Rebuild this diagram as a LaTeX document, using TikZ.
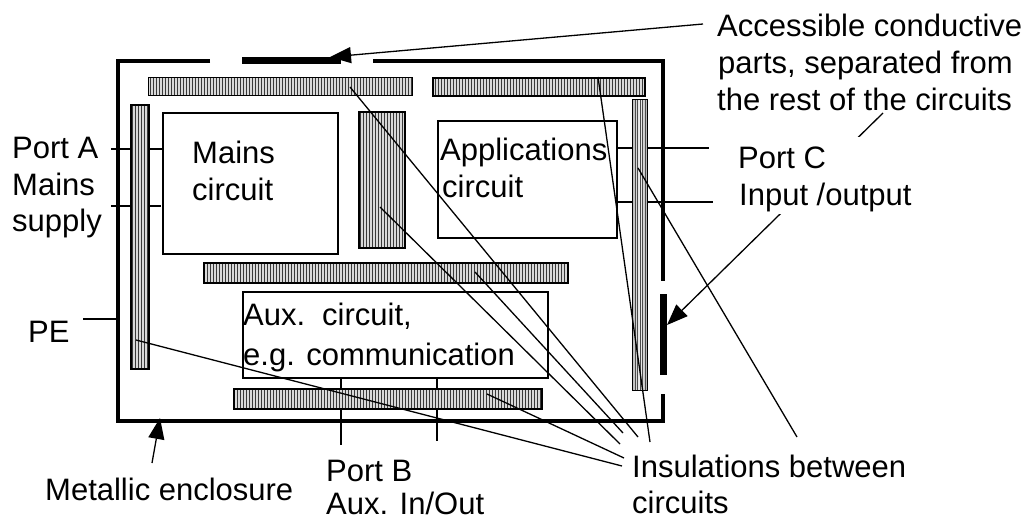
\documentclass[tikz,border=0pt]{standalone}
\usepackage{fontspec}
\setmainfont{Liberation Sans}
\usetikzlibrary{arrows.meta,patterns.meta}
\begin{document}
\begin{tikzpicture}[x=1pt,y=-1pt,
  thinln/.style={line width=1.3pt},
  box/.style={draw, line width=1.8pt, inner sep=0pt, anchor=north west},
  hatch/.style={draw, line width=1.5pt, inner sep=0pt, anchor=north west,
    preaction={fill=gray!30},
    pattern={Lines[angle=90,distance=3pt,line width=0.9pt]}, pattern color=gray!45!black},
  hatchR/.style={draw, line width=1.5pt, inner sep=0pt, anchor=north west,
    preaction={left color=gray!55, right color=gray!65, middle color=gray!10},
    pattern={Lines[angle=90,distance=2.5pt,line width=0.5pt]}, pattern color=gray!60!black},
  lbl/.style={inner sep=0pt, anchor=base west, font=\fontsize{31}{37}\selectfont},
  encl/.style={line width=3.5pt, line cap=butt, line join=miter},
  arr/.style={thinln, -{Triangle[length=21pt,width=16pt]}},
]
\useasboundingbox (0,0) rectangle (1035,520);

% port lines (under bars)
\coordinate (pA1) at (111,149); \coordinate (pA1e) at (162,149);
\coordinate (pA2) at (111,206); \coordinate (pA2e) at (161,206);
\coordinate (pC1) at (616,148); \coordinate (pC1e) at (709,148);
\coordinate (pC2) at (616,202); \coordinate (pC2e) at (713,202);
\coordinate (pB1) at (341,377); \coordinate (pB1e) at (341,445);
\coordinate (pB2) at (437,377); \coordinate (pB2e) at (437,441);
\coordinate (pe1) at (83,319);  \coordinate (pe1e) at (118,319);
\draw[thinln] (pA1) -- (pA1e);
\draw[thinln] (pA2) -- (pA2e);
\draw[thinln] (pC1) -- (pC1e);
\draw[thinln] (pC2) -- (pC2e);
\draw[thinln] (pB1) -- (pB1e);
\draw[thinln] (pB2) -- (pB2e);
\draw[thinln] (pe1) -- (pe1e);

% insulation bars
\node[hatch, minimum width=264pt, minimum height=18pt] (barTL) at (148,77) {};
\node[hatch, minimum width=212pt, minimum height=18pt] (barTR) at (432,77) {};
\node[hatch, minimum width=18pt, minimum height=264pt] (barL) at (130,104) {};
\node[hatch, minimum width=46pt, minimum height=136pt] (barM) at (358,111) {};
\node[hatchR, minimum width=15pt, minimum height=291pt] (barR) at (632,99) {};
\node[hatch, minimum width=364pt, minimum height=20pt] (barH) at (203,262) {};
\node[hatch, minimum width=308pt, minimum height=20pt] (barB) at (233,388) {};

% circuit boxes
\node[box, minimum width=175pt, minimum height=141pt] (mains) at (162,112) {};
\node[box, minimum width=179pt, minimum height=117pt] (app) at (437,120) {};
\node[box, minimum width=305pt, minimum height=86pt] (aux) at (242,291) {};

% enclosure
\draw[encl] (210,61) -- (118,61) -- (118,421) -- (663,421) -- (663,394);
\draw[encl] (373,61) -- (663,61) -- (663,281);
\draw[line width=6.5pt] (242,60.5) -- (341,60.5);
\draw[line width=7pt] (663.5,294) -- (663.5,375);

% insulation leaders
\coordinate (oA) at (350,87);  \coordinate (eA) at (638,437);
\coordinate (oB) at (598,77);  \coordinate (eB) at (650,442);
\coordinate (oC) at (380,207); \coordinate (eC) at (620,444);
\coordinate (oD) at (475,272); \coordinate (eD) at (623,433);
\coordinate (oE) at (487,394); \coordinate (eE) at (624,458);
\coordinate (oF) at (136,340); \coordinate (eF) at (622,466);
\coordinate (oG) at (638,168); \coordinate (eG) at (797,437);
\foreach \o/\e in {oA/eA,oB/eB,oC/eC,oD/eD,oE/eE,oF/eF,oG/eG}
  \draw[thinln] (\o) -- (\e);

% arrows
\coordinate (accS) at (703,24);  \coordinate (accT) at (330,57);
\coordinate (restS) at (883,113); \coordinate (restT) at (667,325);
\coordinate (metS) at (152,463); \coordinate (metT) at (160,418);
\draw[arr] (accS) -- (accT);
\draw[arr] (restS) -- (restT);
\draw[arr] (metS) -- (metT);

% white ground behind the Port C label (hides part of the leader)
\fill[white] (732,137) rectangle (925,214);

% texts
\node[lbl] (tA1) at (12,158) {Port A};
\node[lbl] (tA2) at (12,195) {Mains};
\node[lbl] (tA3) at (12,231) {supply};
\node[lbl] (tPE) at (28,342) {PE};
\node[lbl] (tM1) at (192,163) {Mains};
\node[lbl] (tM2) at (192,200) {circuit};
\node[lbl] (tP1) at (440,160) {Applications};
\node[lbl] (tP2) at (442,197) {circuit};
\node[lbl] (tX1) at (243,325) {Aux.\hspace{17pt}circuit,};
\node[lbl] (tX2) at (243,365) {e.g. communication};
\node[lbl] (tC1) at (738,168) {Port C};
\node[lbl] (tC2) at (739,205) {Input /output};
\node[lbl] (tS1) at (717,36) {Accessible conductive};
\node[lbl] (tS2) at (718,73) {parts, separated from};
\node[lbl] (tS3) at (717,110) {the rest of the circuits};
\node[lbl] (tI1) at (632,477) {Insulations between};
\node[lbl] (tI2) at (632,513) {circuits};
\node[lbl] (tB1) at (326,481) {Port B};
\node[lbl] (tB2) at (326,514) {Aux. In/Out};
\node[lbl] (tE) at (45,500) {Metallic enclosure};
\end{tikzpicture}
\end{document}
